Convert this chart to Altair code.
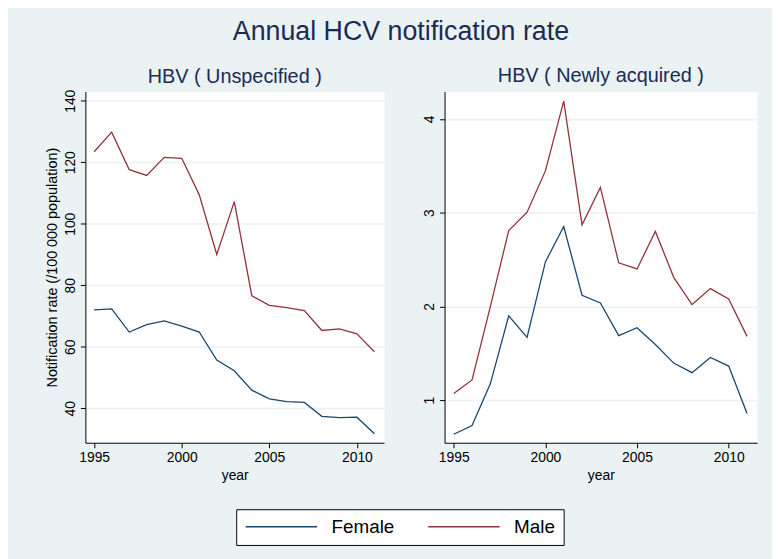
import altair as alt
import pandas as pd

years = list(range(1995, 2012))

unspec_female = [72.0, 72.3, 64.8, 67.2, 68.4, 66.7, 64.8, 55.7, 52.2, 45.9, 43.1, 42.2, 41.9, 37.4, 37.0, 37.1, 31.7]
unspec_male = [123.4, 129.8, 117.6, 115.7, 121.6, 121.3, 109.4, 90.0, 107.2, 76.6, 73.5, 72.7, 71.8, 65.3, 65.8, 64.2, 58.4]

newly_female = [0.636, 0.728, 1.176, 1.90, 1.67, 2.475, 2.853, 2.119, 2.037, 1.688, 1.773, 1.593, 1.395, 1.293, 1.455, 1.363, 0.858]
newly_male = [1.07, 1.215, 2.0, 2.81, 3.005, 3.446, 4.19, 2.87, 3.27, 2.465, 2.40, 2.80, 2.31, 2.02, 2.19, 2.08, 1.68]

sexes = ["Female", "Male"]
colors = ["#1a476f", "#90353b"]

FONT = "Liberation Sans"
NAVY = "#1c2a55"


def make_df(female, male):
    return pd.DataFrame({
        "year": years + years,
        "rate": female + male,
        "sex": [sexes[0]] * len(years) + [sexes[1]] * len(years),
    })


color = alt.Color(
    "sex:N",
    scale=alt.Scale(domain=sexes, range=colors),
    legend=alt.Legend(
        title=None,
        orient="none",
        direction="horizontal",
        legendX=152,
        legendY=421,
        symbolType="M-5.14,0H5.14",
        symbolSize=196,
        symbolStrokeWidth=1.5,
        symbolOffset=28,
        labelFontSize=19,
        labelFont=FONT,
        labelColor="black",
        labelOffset=41,
        columnPadding=30,
        padding=8,
        strokeColor="black",
        fillColor="white",
    ),
)

xaxis = alt.Axis(values=[1995, 2000, 2005, 2010], format="d", title="year", grid=False,
                 titleFontWeight="normal", titleFontSize=14, titlePadding=4)


def panel(df, title, ydomain, yvalues, ytitle, width, toff):
    ax_kwargs = dict(values=yvalues, labelAngle=270, labelAlign="center", labelBaseline="bottom",
                     grid=True, gridColor="#EAF2F3", gridWidth=1.5, titleFontWeight="normal",
                     titleFontSize=14.5, titlePadding=4)
    if ytitle:
        yax = alt.Axis(title=ytitle, **ax_kwargs)
    else:
        yax = alt.Axis(title=None, **ax_kwargs)
    return alt.Chart(df, title=alt.TitleParams(title, fontSize=20, font=FONT, color=NAVY,
                                               fontWeight="normal", offset=toff)).mark_line(strokeWidth=1.3).encode(
        x=alt.X("year:Q", scale=alt.Scale(domain=[1994.5, 2011.55], nice=False, zero=False), axis=xaxis),
        y=alt.Y("rate:Q", scale=alt.Scale(domain=ydomain, nice=False, zero=False), axis=yax),
        color=color,
    ).properties(width=width, height=354)


left = panel(make_df(unspec_female, unspec_male), "HBV ( Unspecified )", [28.8, 143],
             [40, 60, 80, 100, 120, 140], "Notification rate (/100 000 population)", 301, 2)
right = panel(make_df(newly_female, newly_male), "HBV ( Newly acquired )", [0.545, 4.293],
              [1, 2, 3, 4], None, 315, 6)

chart = alt.hconcat(left, right, spacing=37).resolve_scale(
    x="independent", y="independent", color="shared"
).properties(
    title=alt.TitleParams("Annual HCV notification rate", fontSize=27, font=FONT, color=NAVY,
                          fontWeight="normal", anchor="middle", offset=19),
    padding={"left": 36, "top": 8, "right": 14, "bottom": 12},
).configure(
    background="#EAF2F3",
    font=FONT,
).configure_view(
    fill="white", stroke="transparent"
).configure_axis(
    labelFont=FONT, titleFont=FONT, labelFontSize=14, labelColor="black", titleColor="black",
    domainColor="black", tickColor="black", domainWidth=1, tickWidth=1, tickSize=5, labelPadding=3,
)

chart.save("out.html", embed_options={"renderer": "svg", "actions": False})
